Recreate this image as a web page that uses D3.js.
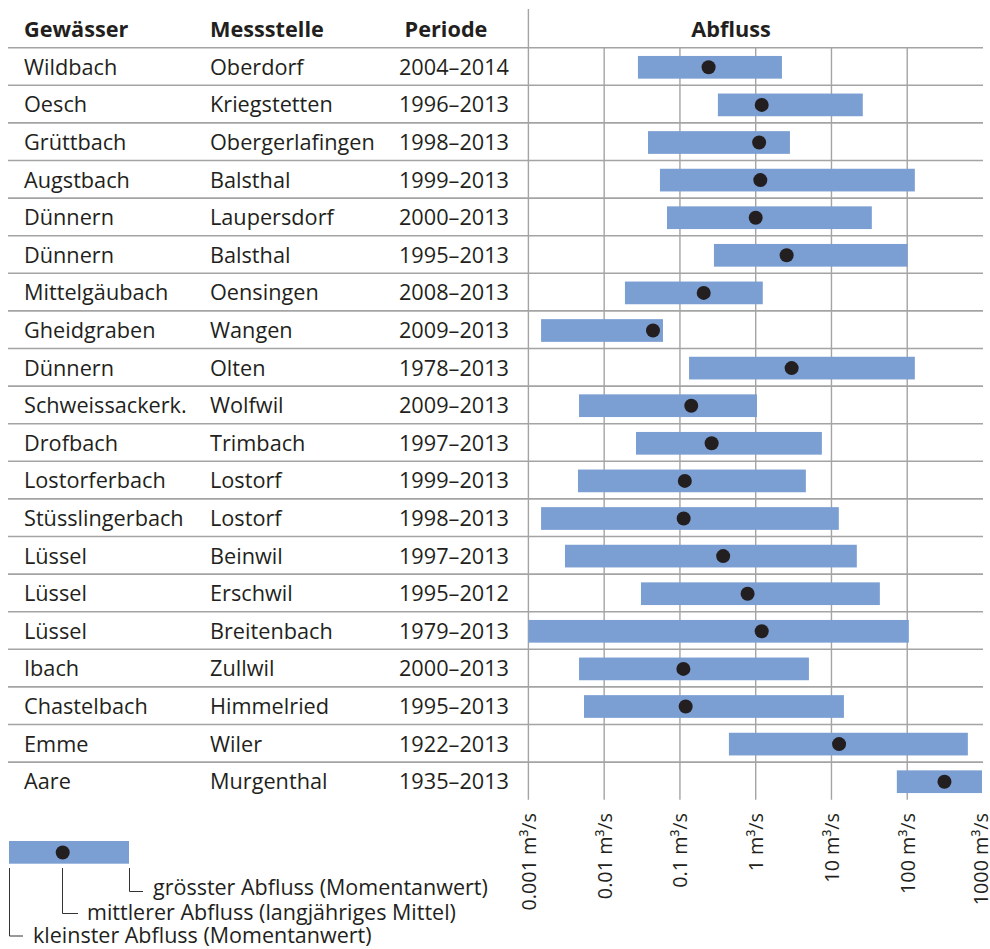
<!DOCTYPE html>
<html><head><meta charset="utf-8">
<script src="https://cdn.jsdelivr.net/npm/d3@7/dist/d3.min.js"></script>
<style>
body{margin:0;background:#fff;}
svg{display:block;}
text{font-family:"Open Sans","Noto Sans",sans-serif;fill:#231f20;}
</style></head><body>
<script>
const gewaesser = ["Wildbach","Oesch","Grüttbach","Augstbach","Dünnern","Dünnern","Mittelgäubach","Gheidgraben","Dünnern","Schweissackerk.","Drofbach","Lostorferbach","Stüsslingerbach","Lüssel","Lüssel","Lüssel","Ibach","Chastelbach","Emme","Aare"];
const messstelle = ["Oberdorf","Kriegstetten","Obergerlafingen","Balsthal","Laupersdorf","Balsthal","Oensingen","Wangen","Olten","Wolfwil","Trimbach","Lostorf","Lostorf","Beinwil","Erschwil","Breitenbach","Zullwil","Himmelried","Wiler","Murgenthal"];
const periode = ["2004–2014","1996–2013","1998–2013","1999–2013","2000–2013","1995–2013","2008–2013","2009–2013","1978–2013","2009–2013","1997–2013","1999–2013","1998–2013","1997–2013","1995–2012","1979–2013","2000–2013","1995–2013","1922–2013","1935–2013"];
const minQ  = [0.0279,0.317,0.0379,0.0545,0.0675,0.281,0.0188,0.00147,0.132,0.00466,0.0263,0.00451,0.00147,0.00304,0.0306,0.001,0.00466,0.00542,0.443,72.9];
const meanQ = [0.239,1.20,1.11,1.15,1.00,2.56,0.206,0.0441,2.98,0.141,0.262,0.116,0.112,0.372,0.782,1.20,0.111,0.119,12.6,310];
const maxQ  = [2.22,25.9,2.83,126,34.1,101,1.24,0.0597,126,1.04,7.47,4.59,12.5,21.6,43.5,105,5.04,14.6,631,970];
const tickValues = [0.001,0.01,0.1,1,10,100,1000];
const tickLabels = ["0.001","0.01","0.1","1","10","100","1000"];
const headers = ["Gewässer","Messstelle","Periode","Abfluss"];
const legendTexts = ["grösster Abfluss (Momentanwert)","mittlerer Abfluss (langjähriges Mittel)","kleinster Abfluss (Momentanwert)"];

const W=990,H=949;
const svg=d3.select("body").append("svg").attr("width",W).attr("height",H);
const x=d3.scaleLog().domain([0.001,1000]).range([528.4,983]);
const y=d3.scaleBand().domain(d3.range(gewaesser.length)).range([47.7,799.7]);
const gridCol="#a4a4a4", barCol="#7b9ed3", dotCol="#231f20";
const fs=21.7;

// horizontal lines
const hl=svg.append("g");
d3.range(gewaesser.length).forEach(i=>{
  hl.append("line").attr("x1",8).attr("x2",983).attr("y1",y(i)).attr("y2",y(i))
    .attr("stroke",gridCol).attr("stroke-width",1.6);
});
// vertical grid
tickValues.slice(1,-1).forEach(v=>{
  svg.append("line").attr("x1",x(v)).attr("x2",x(v)).attr("y1",47.7).attr("y2",799.7)
    .attr("stroke",gridCol).attr("stroke-width",1.4);
});
svg.append("line").attr("x1",x(0.001)).attr("x2",x(0.001)).attr("y1",9).attr("y2",799.7)
  .attr("stroke",gridCol).attr("stroke-width",1.4);

// headers
const hy=37.3;
svg.append("text").attr("x",24).attr("y",hy).attr("font-size",fs).attr("font-weight","bold").text(headers[0]);
svg.append("text").attr("x",210).attr("y",hy).attr("font-size",fs).attr("font-weight","bold").text(headers[1]);
svg.append("text").attr("x",446).attr("y",hy).attr("text-anchor","middle").attr("font-size",fs).attr("font-weight","bold").text(headers[2]);
svg.append("text").attr("x",731).attr("y",hy).attr("text-anchor","middle").attr("font-size",fs).attr("font-weight","bold").text(headers[3]);

// rows text
const rows=svg.append("g");
gewaesser.forEach((g,i)=>{
  const by=y(i)+y.bandwidth()/2+8.3;
  rows.append("text").attr("x",24).attr("y",by).attr("font-size",fs).text(g);
  rows.append("text").attr("x",210).attr("y",by).attr("font-size",fs).text(messstelle[i]);
  rows.append("text").attr("x",509).attr("y",by).attr("text-anchor","end").attr("font-size",fs).text(periode[i]);
});

// bars
const bh=22.7;
svg.append("g").selectAll("rect").data(d3.range(gewaesser.length)).join("rect")
  .attr("x",i=>x(minQ[i])).attr("width",i=>x(maxQ[i])-x(minQ[i]))
  .attr("y",i=>y(i)+y.bandwidth()/2-bh/2+0.8).attr("height",bh).attr("fill",barCol);
svg.append("g").selectAll("circle").data(d3.range(gewaesser.length)).join("circle")
  .attr("cx",i=>x(meanQ[i])).attr("cy",i=>y(i)+y.bandwidth()/2+0.8).attr("r",7).attr("fill",dotCol);

// tick labels rotated
tickValues.forEach((v,i)=>{
  svg.append("text").attr("transform",`translate(${Math.min(x(v)+7.5,988)},813) rotate(-90)`)
    .attr("text-anchor","end").attr("font-size",19.8).text(tickLabels[i]+" m³/s");
});

// legend
svg.append("rect").attr("x",9).attr("y",841).attr("width",120).attr("height",22.7).attr("fill",barCol);
svg.append("circle").attr("cx",62.7).attr("cy",852.5).attr("r",7).attr("fill",dotCol);
const lc="#333";
const lg=svg.append("g").attr("fill","none").attr("stroke",lc).attr("stroke-width",1);
lg.append("path").attr("d","M129.5,868V891.5H143");
lg.append("path").attr("d","M62.5,868V913.5H78");
lg.append("path").attr("d","M9.5,868V936H23");
const lfs=21.5;
svg.append("text").attr("x",153).attr("y",895).attr("font-size",lfs).text(legendTexts[0]);
svg.append("text").attr("x",87).attr("y",920).attr("font-size",lfs).text(legendTexts[1]);
svg.append("text").attr("x",33).attr("y",943).attr("font-size",lfs).text(legendTexts[2]);
</script></body></html>
